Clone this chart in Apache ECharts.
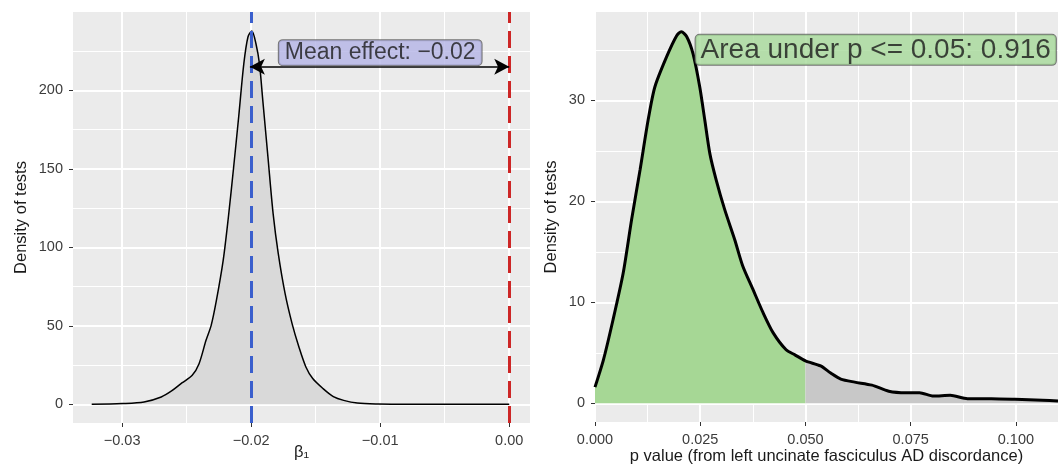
<!DOCTYPE html>
<html>
<head>
<meta charset="utf-8">
<script src="https://cdn.jsdelivr.net/npm/echarts@6/dist/echarts.min.js"></script>
<style>html,body{margin:0;padding:0;background:#fff;}#c{width:1064px;height:467px;}</style>
</head>
<body>
<div id="c"></div>
<script>
// ---- Left panel data (beta_1 density) ----
const betaX = [-0.03236,-0.0300,-0.0283,-0.02697,-0.02617,-0.02537,-0.02457,-0.02404,-0.0235,-0.0231,-0.0227,-0.02217,-0.02177,-0.02136,-0.02097,-0.02057,-0.02025,-0.01995,-0.01963,-0.01936,-0.0191,-0.0187,-0.0183,-0.0179,-0.01737,-0.01683,-0.0163,-0.01576,-0.01523,-0.01443,-0.01363,-0.01283,-0.01177,-0.01016,-0.0080,0.0];
const betaDensity = [0,0.5,1.5,4.7,8.5,13.6,18.5,25.9,40.8,50.3,66,91.7,119,151,183,217,234,237.8,229.7,217,193.6,157.5,121.5,96,70.5,51.4,36.5,23.8,16.4,10,4.9,2.5,0.8,0.2,0,0];
const betaTicks = [-0.03,-0.02,-0.01,0.00];
const betaMinor = [-0.025,-0.015,-0.005];
const betaTickLabels = ['\u22120.03','\u22120.02','\u22120.01','0.00'];
const leftYTicks = [0,50,100,150,200];
const leftYMinor = [25,75,125,175,225];
const meanEffect = -0.0201;
const nullEffect = 0.0;
const arrowY = 215;
const meanLabel = 'Mean effect: \u22120.02';
const meanLabelPos = [-0.0100, 224];

// ---- Right panel data (p value density) ----
const pValues = [0,0.002,0.0043,0.0067,0.0087,0.0107,0.0126,0.0142,0.017,0.0194,0.0205,0.0218,0.0233,0.0249,0.0261,0.0273,0.0288,0.0308,0.0332,0.0351,0.0375,0.0399,0.0423,0.0454,0.0475,0.05,0.0536,0.056,0.0584,0.0617,0.0658,0.0698,0.0739,0.0771,0.0804,0.0844,0.0885,0.0942,0.0998,0.1063,0.11];
const pDensity = [1.6,4.3,8.3,12.9,18.2,23.1,28.0,31.3,34.3,36.4,36.8,36.3,34.6,31.3,28.0,24.7,22.1,19.2,16.2,13.6,11.3,9.0,7.0,5.3,4.8,4.2,3.7,3.0,2.4,2.1,1.8,1.2,1.05,1.05,0.72,0.79,0.46,0.46,0.4,0.3,0.23];
const pThreshold = 0.05;
const pTicks = [0,0.025,0.05,0.075,0.1];
const pMinor = [0.0125,0.0375,0.0625,0.0875];
const pTickLabels = ['0.000','0.025','0.050','0.075','0.100'];
const rightYTicks = [0,10,20,30];
const rightYMinor = [5,15,25,35];
const areaLabel = 'Area under p <= 0.05: 0.916';
const areaLabelPos = [0.0667, 35.0];

const leftPts = betaX.map((x,i)=>[x,betaDensity[i]]);
const rightPts = pValues.map((x,i)=>[x,pDensity[i]]);
const greenPts = rightPts.filter(p=>p[0]<=pThreshold);
const greyPts = rightPts.filter(p=>p[0]>=pThreshold);

const FONT = 'Liberation Sans, Arial, sans-serif';
const BG = '#ebebeb';
const TICKCOL = '#3c3c3c';

function mainX(gi, min, max, ticks, labels, name, gap){
  return {type:'value', gridIndex:gi, min:min, max:max, position:'bottom',
    name:name, nameLocation:'middle', nameGap:gap, nameMoveOverlap:false,
    nameTextStyle:{fontFamily:FONT,fontSize:16.5,color:'#1a1a1a'},
    axisLine:{show:false,onZero:false},
    axisTick:{show:true,length:4,customValues:ticks,lineStyle:{color:'#333',width:1}},
    axisLabel:{customValues:ticks,margin:10,fontFamily:FONT,fontSize:14.5,color:TICKCOL,
      formatter:(v)=>{const i=ticks.findIndex(t=>Math.abs(t-v)<1e-9);return i>=0?labels[i]:'';}},
    splitLine:{show:true,lineStyle:{color:'#fff',width:2}}};
}
function minorX(gi,min,max,ticks){
  return {type:'value',gridIndex:gi,min:min,max:max,position:'bottom',
    axisLine:{show:false,onZero:false},axisLabel:{show:false},
    axisTick:{show:false,customValues:ticks},
    splitLine:{show:true,lineStyle:{color:'#fff',width:1}}};
}
function mainY(gi,min,max,ticks,gap){
  return {type:'value',gridIndex:gi,min:min,max:max,position:'left',
    name:'Density of tests',nameLocation:'middle',nameGap:gap,
    nameTextStyle:{fontFamily:FONT,fontSize:16.5,color:'#1a1a1a'},
    axisLine:{show:false,onZero:false},
    axisTick:{show:true,length:4,customValues:ticks,lineStyle:{color:'#333',width:1}},
    axisLabel:{customValues:ticks,margin:10,fontFamily:FONT,fontSize:14.5,color:TICKCOL},
    splitLine:{show:true,lineStyle:{color:'#fff',width:2}}};
}
function minorY(gi,min,max,ticks){
  return {type:'value',gridIndex:gi,min:min,max:max,position:'left',
    axisLine:{show:false,onZero:false},axisLabel:{show:false},
    axisTick:{show:false,customValues:ticks},
    splitLine:{show:true,lineStyle:{color:'#fff',width:1}}};
}

const chart = echarts.init(document.getElementById('c'), null, {renderer:'canvas'});
chart.setOption({
  animation:false,
  backgroundColor:'#fff',
  grid:[
    {left:73, top:12, width:457, height:411, show:true, backgroundColor:BG, borderWidth:0, containLabel:false, outerBoundsMode:'none'},
    {left:595, top:12, width:463, height:410, show:true, backgroundColor:BG, borderWidth:0, containLabel:false, outerBoundsMode:'none'}
  ],
  xAxis:[
    mainX(0,-0.03381,0.00161,betaTicks,betaTickLabels,'\u03B2\u2081',21),
    minorX(0,-0.03381,0.00161,betaMinor),
    mainX(1,0,0.11,pTicks,pTickLabels,'p value (from left uncinate fasciculus AD discordance)',26),
    minorX(1,0,0.11,pMinor)
  ],
  yAxis:[
    mainY(0,-11.9,249.9,leftYTicks,43),
    minorY(0,-11.9,249.9,leftYMinor),
    mainY(1,-1.85,38.75,rightYTicks,35),
    minorY(1,-1.85,38.75,rightYMinor)
  ],
  series:[
    {type:'line',xAxisIndex:0,yAxisIndex:0,data:leftPts,smooth:0.3,showSymbol:false,
      lineStyle:{color:'#000',width:1.5},areaStyle:{color:'#d9d9d9',opacity:1},z:2},
    {type:'line',xAxisIndex:0,yAxisIndex:0,data:[],z:3,
      markLine:{silent:true,symbol:['none','none'],label:{show:false},animation:false,
        data:[
          {xAxis:meanEffect,lineStyle:{color:'#3a5fcd',width:3,type:[17,8]}},
          {xAxis:nullEffect,lineStyle:{color:'#cd2626',width:3,type:[17,8]}}
        ]}},
    {type:'line',xAxisIndex:0,yAxisIndex:0,data:[],z:4,
      markLine:{silent:true,symbol:['arrow','arrow'],symbolSize:[12,15],label:{show:false},animation:false,
        lineStyle:{color:'#000',width:1.5,type:'solid'},
        data:[[{coord:[meanEffect,arrowY]},{coord:[nullEffect,arrowY]}]]}},
    {type:'scatter',xAxisIndex:0,yAxisIndex:0,data:[meanLabelPos],symbolSize:0,z:5,silent:true,
      label:{show:true,position:'inside',formatter:meanLabel,fontFamily:FONT,fontSize:23,color:'#1a1a1a',
        backgroundColor:'#b4b4e6',borderColor:'#555',borderWidth:1,borderRadius:4,padding:[2,6,0,6]}},
    {type:'line',xAxisIndex:2,yAxisIndex:2,data:greenPts,smooth:0.25,showSymbol:false,
      lineStyle:{width:0,opacity:0},areaStyle:{color:'#a6d795',opacity:1},z:2},
    {type:'line',xAxisIndex:2,yAxisIndex:2,data:greyPts,smooth:0.25,showSymbol:false,
      lineStyle:{width:0,opacity:0},areaStyle:{color:'#c8c8c8',opacity:1},z:2},
    {type:'line',xAxisIndex:2,yAxisIndex:2,data:rightPts,smooth:0.25,showSymbol:false,
      lineStyle:{color:'#000',width:3},z:3},
    {type:'scatter',xAxisIndex:2,yAxisIndex:2,data:[areaLabelPos],symbolSize:0,z:5,silent:true,
      label:{show:true,position:'inside',formatter:areaLabel,fontFamily:FONT,fontSize:28,color:'#1a1a1a',
        backgroundColor:'#a6d99a',borderColor:'#555',borderWidth:1,borderRadius:4,padding:[2,5,0,5]}}
  ]
});
</script>
</body>
</html>
